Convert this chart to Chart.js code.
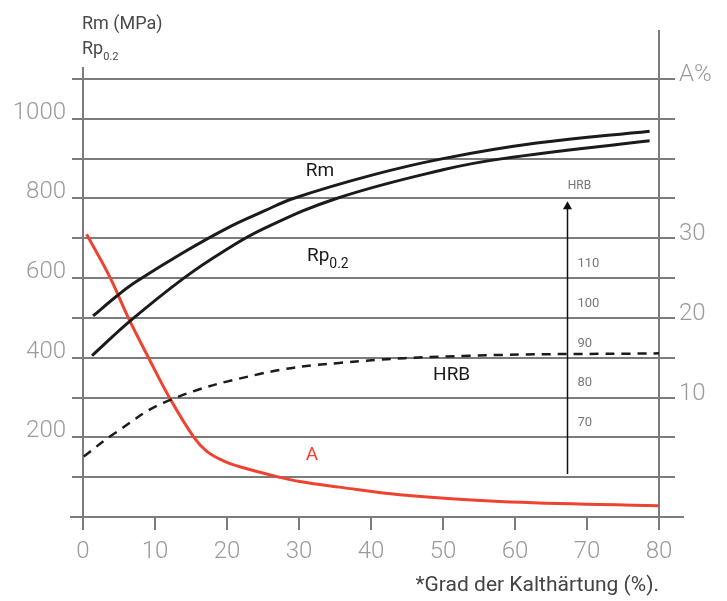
<!DOCTYPE html>
<html>
<head>
<meta charset="utf-8">
<script src="https://cdn.jsdelivr.net/npm/chart.js@4/dist/chart.umd.min.js"></script>
<style>
body { margin: 0; background: #fff; }
#wrap { width: 727px; height: 601px; }
</style>
</head>
<body>
<div id="wrap"><canvas id="chart" width="727" height="601"></canvas></div>
<script>
// Grad der Kalthärtung (%) -> Festigkeit, Härte, Dehnung
const rmX = [1.4, 4.7, 7.3, 14, 20.5, 25.1, 29.2, 40, 50, 63, 78.7];
const rmVal = [505, 555, 590, 665, 730, 768, 800, 858, 900, 939, 969];
const rpX = [1.25, 6.6, 14, 19.5, 25.1, 35.2, 50, 58.3, 78.7];
const rpVal = [405, 493, 600, 667, 724, 800, 872, 900, 945];
const hrbX = [0.1, 4.3, 11.7, 24.5, 35.6, 53.7, 80];
const hrbVal = [61.6, 67.3, 75.5, 82.3, 85.1, 86.9, 87.5];
const aX = [0.5, 3.8, 6.3, 9.1, 12, 15.4, 17.2, 19.5, 21.9, 27.3, 30.1, 35.6, 44, 57.9, 79.9];
const aVal = [30.5, 25, 20, 15, 10, 5, 3.25, 2.05, 1.28, 0, -0.55, -1.25, -2.2, -3.05, -3.6];

const leftTickLabels = [200, 400, 600, 800, 1000];
const rightTickLabels = [10, 20, 30];
const hrbTickLabels = [70, 80, 90, 100, 110];

const gridColor = '#7c7c7c';
const tickColor = '#9b9b9b';
const red = '#ee4331';
const black = '#1b1b1b';

function pts(xs, ys) {
    return xs.map((x, i) => ({ x: x, y: ys[i] }));
}

Chart.defaults.font.family = 'Roboto';

const decor = {
    id: 'decor',
    beforeDatasetsDraw(chart) {
        const { ctx, chartArea: a, scales } = chart;
        ctx.save();
        ctx.strokeStyle = gridColor;
        ctx.lineWidth = 2;
        ctx.beginPath();
        ctx.moveTo(a.left, a.top - 12); ctx.lineTo(a.left, a.bottom);
        ctx.moveTo(a.right, a.top - 49); ctx.lineTo(a.right, a.bottom);
        ctx.moveTo(a.left - 13, a.bottom); ctx.lineTo(a.right + 25, a.bottom);
        ctx.stroke();

        // HRB Pfeil
        const ax = Math.round(scales.x.getPixelForValue(67.2)) + 0.5;
        const y0 = scales.yh.getPixelForValue(57.2);
        const y1 = scales.yh.getPixelForValue(125.7);
        ctx.strokeStyle = '#111';
        ctx.fillStyle = '#111';
        ctx.lineWidth = 1.5;
        ctx.beginPath();
        ctx.moveTo(ax, y0); ctx.lineTo(ax, y1 + 5);
        ctx.stroke();
        ctx.beginPath();
        ctx.moveTo(ax, y1); ctx.lineTo(ax - 4.5, y1 + 8); ctx.lineTo(ax + 4.5, y1 + 8);
        ctx.closePath();
        ctx.fill();

        ctx.fillStyle = '#777';
        ctx.font = '13px Roboto';
        ctx.textAlign = 'left';
        ctx.textBaseline = 'middle';
        hrbTickLabels.forEach(v => {
            ctx.fillText(String(v), ax + 10, scales.yh.getPixelForValue(v));
        });
        ctx.font = '12px Roboto';
        ctx.textAlign = 'center';
        ctx.fillText('HRB', ax + 12, scales.yh.getPixelForValue(129.5));
        ctx.restore();
    },
    afterDraw(chart) {
        const { ctx, chartArea: a, scales } = chart;
        ctx.save();
        ctx.textBaseline = 'middle';
        ctx.textAlign = 'left';

        // Achsentitel oben links
        ctx.fillStyle = '#4a4a4a';
        ctx.font = '18px Roboto';
        ctx.fillText('Rm (MPa)', a.left - 1, a.top - 55);
        ctx.fillText('Rp', a.left - 1, a.top - 30);
        let w = ctx.measureText('Rp').width;
        ctx.font = '11px Roboto';
        ctx.fillText('0.2', a.left - 1 + w, a.top - 22);

        // Kurvenbeschriftungen
        const X = v => scales.x.getPixelForValue(v);
        const Y = v => scales.y.getPixelForValue(v);
        ctx.fillStyle = black;
        ctx.font = '19px Roboto';
        ctx.textAlign = 'center';
        ctx.fillText('Rm', X(32.9), Y(869));
        ctx.fillText('HRB', X(51.2), Y(357));
        ctx.textAlign = 'left';
        ctx.fillText('Rp', X(31.1), Y(655));
        w = ctx.measureText('Rp').width;
        ctx.font = '14px Roboto';
        ctx.fillText('0.2', X(31.1) + w, Y(655) + 8);
        ctx.fillStyle = red;
        ctx.font = '19px Roboto';
        ctx.textAlign = 'center';
        ctx.fillText('A', X(31.8), scales.y2.getPixelForValue(2.8));
        ctx.restore();
    }
};

const lineStyle = {
    pointRadius: 0,
    fill: false,
    tension: 0.4
};

new Chart(document.getElementById('chart').getContext('2d'), {
    type: 'line',
    data: {
        datasets: [
            Object.assign({ label: 'Rm', data: pts(rmX, rmVal), borderColor: black, borderWidth: 3, yAxisID: 'y' }, lineStyle),
            Object.assign({ label: 'Rp0.2', data: pts(rpX, rpVal), borderColor: black, borderWidth: 3, yAxisID: 'y' }, lineStyle),
            Object.assign({ label: 'HRB', data: pts(hrbX, hrbVal), borderColor: black, borderWidth: 2.5, borderDash: [9, 7], yAxisID: 'yh' }, lineStyle),
            Object.assign({ label: 'A', data: pts(aX, aVal), borderColor: red, borderWidth: 3, yAxisID: 'y2' }, lineStyle)
        ]
    },
    options: {
        responsive: false,
        animation: false,
        devicePixelRatio: 1,
        layout: { padding: { top: 79, left: 0, right: 0, bottom: 0 } },
        plugins: { legend: { display: false }, tooltip: { enabled: false } },
        scales: {
            x: {
                type: 'linear', min: 0, max: 80,
                border: { display: false },
                grid: { drawOnChartArea: false, drawTicks: true, tickLength: 13, color: gridColor, lineWidth: 2 },
                ticks: { stepSize: 10, color: tickColor, padding: 8, font: { size: 24, weight: '300' } },
                title: {
                    display: true, text: '*Grad der Kalthärtung (%).', align: 'end', color: '#444',
                    font: { size: 21 }, padding: { top: 0, bottom: 3 }
                },
                afterFit: s => { s.height = 84; }
            },
            y: {
                type: 'linear', position: 'left', min: 0, max: 1100,
                border: { display: false },
                grid: { drawOnChartArea: true, drawTicks: true, tickLength: 11, color: gridColor, lineWidth: 2 },
                ticks: {
                    stepSize: 100, autoSkip: false, color: tickColor, padding: 6, labelOffset: -6,
                    font: { size: 24, weight: '300' },
                    callback: v => leftTickLabels.includes(v) ? String(v) : ''
                },
                afterFit: s => { s.width = 83; }
            },
            y2: {
                type: 'linear', position: 'right', min: -5, max: 50,
                border: { display: false },
                grid: { drawOnChartArea: false, drawTicks: true, tickLength: 16, color: gridColor, lineWidth: 2 },
                ticks: {
                    stepSize: 5, autoSkip: false, color: tickColor, padding: 4, labelOffset: -4,
                    font: { size: 24, weight: '300' },
                    callback: v => v === 50 ? 'A%' : (rightTickLabels.includes(v) ? String(v) : '')
                },
                afterFit: s => { s.width = 68; }
            },
            yh: { type: 'linear', display: false, min: 46.4, max: 156.4 }
        }
    },
    plugins: [decor]
});
</script>
</body>
</html>
